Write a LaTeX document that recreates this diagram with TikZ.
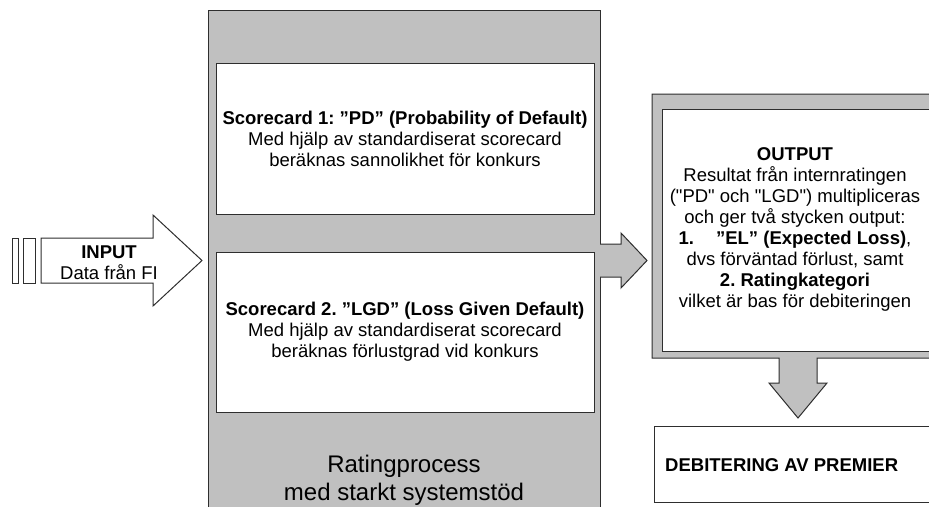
\documentclass[tikz,border=0pt]{standalone}
\usepackage{fontspec}
\newfontfamily\af{Liberation Sans}
\definecolor{boxgray}{HTML}{C0C0C0}
\definecolor{edge}{HTML}{2E2E2E}
\frenchspacing
\begin{document}
\begin{tikzpicture}[x=1pt,y=-1pt,
  txt/.style={font=\af\fontsize{18.5}{21}\selectfont\frenchspacing, align=center, inner sep=0pt},
  wbox/.style={draw=edge, line width=1pt, fill=white},
  gshape/.style={draw=edge, line width=1pt, fill=boxgray}]
\useasboundingbox (0,0) rectangle (929,506);
\clip (0,0) rectangle (929,506);
% big rating process box
\node[gshape, minimum width=392pt, minimum height=520pt, inner sep=0pt] (rating) at (404,270) {};
\node[wbox, txt, minimum width=378pt, minimum height=151pt] (pd) at (405,138.5)
  {\textbf{Scorecard 1: ”PD” (Probability of Default)}\\Med hjälp av standardiserat scorecard\\beräknas sannolikhet för konkurs};
\node[wbox, txt, minimum width=378pt, minimum height=160pt] (lgd) at (405,332)
  {\textbf{Scorecard 2. ”LGD” (Loss Given Default)}\\Med hjälp av standardiserat scorecard\\beräknas förlustgrad vid konkurs};
\node[txt, font=\af\fontsize{24}{28}\selectfont] (rtext) at (404,480) {Ratingprocess\\med starkt systemstöd};
% input arrow
\node[wbox, minimum width=6pt, minimum height=45pt, inner sep=0pt] (bar1) at (15,260.5) {};
\node[wbox, minimum width=12pt, minimum height=45pt, inner sep=0pt] (bar2) at (29,260.5) {};
\draw[wbox] (41,238) -- (153,238) -- (153,215) -- (202,260.5) -- (153,306) -- (153,283) -- (41,283) -- cycle;
\node[txt] (input) at (109,263) {\textbf{INPUT}\\Data från FI};
% arrow from rating to output
\fill[boxgray] (599,244) -- (621,244) -- (621,233) -- (647,260.5) -- (621,288) -- (621,277) -- (599,277) -- cycle;
\draw[draw=edge, line width=1pt] (600,244) -- (621,244) -- (621,233) -- (647,260.5) -- (621,288) -- (621,277) -- (600,277);
% output frame with down arrow
\draw[gshape] (652,94) -- (945,94) -- (945,358) -- (817,358) -- (817,383) -- (827,383) -- (798,418)
  -- (769,383) -- (779,383) -- (779,358) -- (652,358) -- cycle;
\node[wbox, minimum width=278pt, minimum height=242pt, anchor=north west, inner sep=0pt] (outbox) at (662,109) {};
\node[txt] (outtext) at (795,229) {\textbf{OUTPUT}\\Resultat från internratingen\\("PD" och "LGD") multipliceras\\och ger två stycken output:\\\textbf{1.\hspace{22pt}”EL” (Expected Loss)},\\dvs förväntad förlust, samt\\\textbf{2. Ratingkategori}\\vilket är bas för debiteringen};
% debitering box
\node[wbox, minimum width=300pt, minimum height=76pt, anchor=north west, inner sep=0pt] (deb) at (654,426) {};
\node[txt, anchor=west] (debtext) at (665,465) {\textbf{DEBITERING AV PREMIER}};
\end{tikzpicture}
\end{document}
